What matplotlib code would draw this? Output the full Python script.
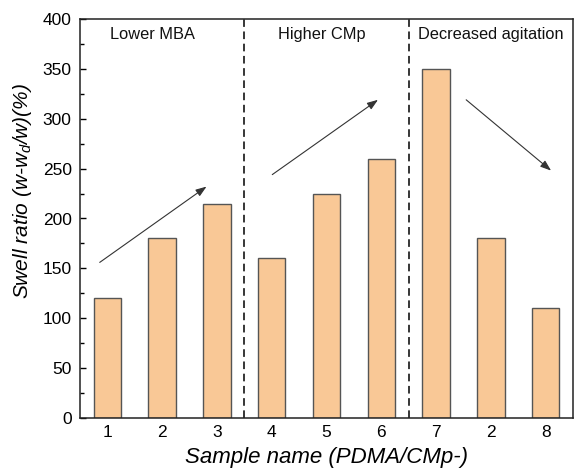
import matplotlib
matplotlib.use('Agg')
import matplotlib.pyplot as plt
from matplotlib.ticker import MultipleLocator

# sample labels and swell ratios
sample_labels = ['1', '2', '3', '4', '5', '6', '7', '2', '8']
swell_ratio = [120, 180, 215, 160, 225, 260, 350, 180, 110]

group_names = ['Lower MBA', 'Higher CMp', 'Decreased agitation']
group_text_x = [1.83, 4.92, 8.0]
divider_x = [3.5, 6.5]

# arrows: (start x, start y, end x, end y) in data units
arrow_start_x = [0.86, 4.01, 7.55]
arrow_start_y = [156, 244, 319]
arrow_end_x = [2.81, 5.94, 9.10]
arrow_end_y = [232, 319, 248]

plt.rcParams['font.family'] = ['Liberation Sans', 'DejaVu Sans']
plt.rcParams['mathtext.fontset'] = 'custom'
plt.rcParams['mathtext.it'] = 'Liberation Sans:italic'
plt.rcParams['mathtext.rm'] = 'Liberation Sans'

fig = plt.figure(figsize=(5.74, 4.69), dpi=100)
ax = fig.add_axes([80 / 574, 51 / 469, 493 / 574, 399 / 469])

pos = list(range(1, len(swell_ratio) + 1))
ax.bar(pos, swell_ratio, width=0.5, color='#F9C896', edgecolor='#555555', linewidth=1.0, zorder=2)

for xv in divider_x:
    ax.axvline(xv, color='black', linestyle=(0, (5, 3)), linewidth=1.1, zorder=1)

for name, tx in zip(group_names, group_text_x):
    ax.text(tx, 384, name, ha='center', va='center', fontsize=11.8, color='#111111')

for sx, sy, ex, ey in zip(arrow_start_x, arrow_start_y, arrow_end_x, arrow_end_y):
    ax.annotate('', xy=(ex, ey), xytext=(sx, sy),
                arrowprops=dict(arrowstyle='-|>,head_length=0.5,head_width=0.18', color='#333333', lw=0.8,
                                mutation_scale=13, shrinkA=0, shrinkB=0))

ax.set_xlim(0.5, 9.5)
ax.set_ylim(0, 400)
ax.set_xticks(pos)
ax.set_xticklabels(sample_labels)
ax.yaxis.set_major_locator(MultipleLocator(50))
ax.yaxis.set_minor_locator(MultipleLocator(25))
ax.tick_params(axis='y', which='major', direction='in', length=4, width=1, labelsize=12.5, pad=6)
ax.tick_params(axis='y', which='minor', direction='in', length=3, width=1)
ax.tick_params(axis='x', direction='in', length=0, labelsize=12.5, pad=5)
for sp in ax.spines.values():
    sp.set_linewidth(1.1)
    sp.set_color('#222222')

ax.set_xlabel('Sample name (PDMA/CMp-)', fontsize=16, style='italic')
ax.set_ylabel('Swell ratio (w-w$_d$/w)(%)', fontsize=15, style='italic')
ax.yaxis.set_label_coords(-0.093, 0.57)
ax.xaxis.set_label_coords(0.5, -0.072)

fig.savefig('out.png', dpi=100)
